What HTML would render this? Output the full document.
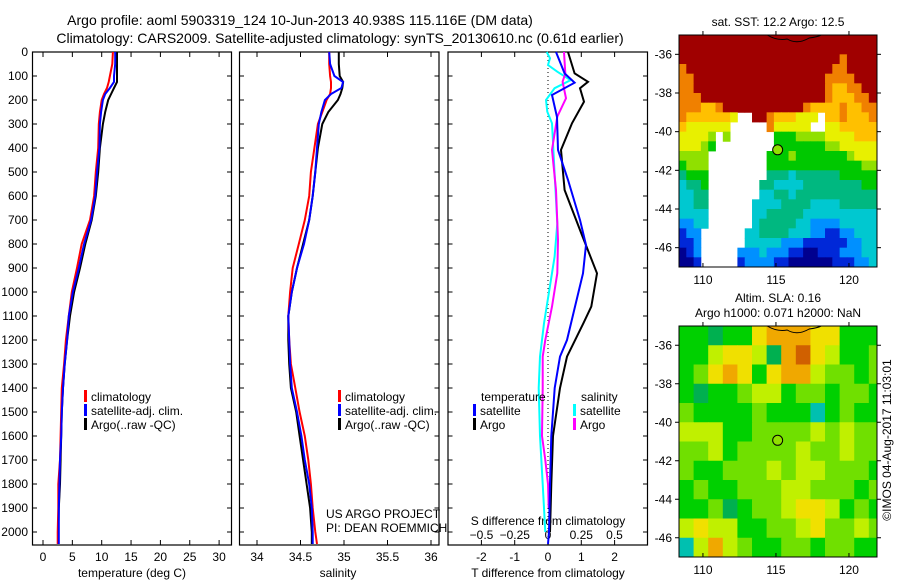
<!DOCTYPE html>
<html><head><meta charset="utf-8"><style>
html,body{margin:0;padding:0;background:#fff;}
svg{display:block;font-family:"Liberation Sans",sans-serif;}
text{font-size:12px;fill:#000;}
</style></head><body>
<svg id="chart" width="900" height="580" viewBox="0 0 900 580" xmlns="http://www.w3.org/2000/svg">
<text x="300" y="25" text-anchor="middle" style="font-size:14px">Argo profile: aoml 5903319_124 10-Jun-2013 40.938S 115.116E (DM data)</text>
<text x="340" y="43" text-anchor="middle" style="font-size:14px">Climatology: CARS2009. Satellite-adjusted climatology: synTS_20130610.nc (0.61d earlier)</text>
<g id="g1"></g>
<g id="g2"></g>
<g id="g3"></g>
<g id="m1"></g>
<g id="m2"></g>
<text x="0" y="0" transform="translate(891,440) rotate(-90)" text-anchor="middle">©IMOS 04-Aug-2017 11:03:01</text>
</svg>
<script>
// ---- profile data ----
const depths=[0,50,100,125,150,175,200,250,300,400,500,600,700,800,900,1000,1100,1200,1300,1400,1500,1600,1700,1800,1900,2000,2050];
const tClim=[11.9,11.8,11.4,11.2,10.9,10.4,10.0,9.7,9.5,9.4,9.0,8.7,8.0,6.6,5.8,4.9,4.4,3.9,3.6,3.2,3.1,3.0,2.9,2.6,2.6,2.5,2.5];
const tSat=[12.3,12.3,12.1,12.1,11.4,10.6,10.2,9.9,9.7,9.6,9.2,8.9,8.2,7.0,6.1,5.1,4.4,4.1,3.7,3.4,3.2,3.1,2.9,2.8,2.7,2.7,2.7];
const tArgo=[12.6,12.6,12.6,12.6,12.1,11.6,11.1,10.6,10.2,9.7,9.4,9.0,8.3,7.2,6.3,5.3,4.6,4.1,3.7,3.4,3.2,3.1,3.0,2.9,2.7,2.6,2.6];
const sClim=[34.83,34.83,34.84,34.85,34.85,34.84,34.80,34.75,34.70,34.66,34.62,34.60,34.55,34.48,34.41,34.38,34.36,34.37,34.39,34.44,34.49,34.55,34.59,34.62,34.64,34.67,34.69];
const sSat=[34.83,34.84,34.89,34.99,34.97,34.85,34.78,34.74,34.71,34.69,34.67,34.64,34.60,34.54,34.46,34.40,34.36,34.37,34.38,34.40,34.46,34.51,34.55,34.60,34.63,34.64,34.64];
const sArgo=[34.94,34.94,34.95,34.99,34.98,34.96,34.93,34.82,34.75,34.70,34.67,34.64,34.60,34.53,34.46,34.40,34.36,34.36,34.37,34.39,34.45,34.49,34.53,34.57,34.61,34.63,34.63];
const dDepA=[0,89,124,151,207,297,408,575,756,922,1061,1131,1269,1400,1600,1800,2000];
const dArgoT=[0.6,0.8,1.2,0.96,1.08,0.72,0.39,0.5,1.0,1.47,1.3,1.06,0.57,0.36,0.15,0.1,0.06];
const dDepB=[0,89,128,179,271,408,533,700,804,922,1061,1200,1269,1400,1600,1800,2000,2050];
const dSatT=[0.24,0.5,0.8,0.12,0.27,0.3,0.6,0.96,1.14,1.05,0.81,0.57,0.36,0.2,0.1,0.06,0.03,0.0];
const dDepC=[0,89,124,193,269,408,575,783,922,1061,1200,1269,1400,1600,1700,1800,1900];
const dArgoS=[0.12,0.13,0.11,0.135,0.07,0.03,0.06,0.075,0.07,0.03,-0.02,-0.04,-0.04,-0.045,-0.02,0.0,0.005];
const dDepD=[0,26,54,82,117,151,200,249,297,506,714,853,992,1131,1269,1400,1600,1800,1900,2000];
const dSatS=[-0.01,0.015,0.0,0.07,0.17,0.05,-0.015,-0.005,0.03,0.05,0.07,0.05,0.01,-0.03,-0.06,-0.07,-0.06,-0.04,-0.03,-0.02];
const depthTicks=[0,100,200,300,400,500,600,700,800,900,1000,1100,1200,1300,1400,1500,1600,1700,1800,1900,2000];
const tTicks=[0,5,10,15,20,25,30];
const sTicks=[34,34.5,35,35.5,36];
const dTTicks=[-2,-1,0,1,2];
const dSTicks=[-0.5,-0.25,0,0.25,0.5];
// ---- map data (levels; '.' = missing) ----
const sstRows=[
"AAAAAAAAAAAAAAAAAAAAAAAAAAA","AAAAAAAAAAAAAAAAAAAAAAAAAAA","AAAAAAAAAAAAAAAAAAAAAA9AAAA","9AAAAAAAAAAAAAAAAAAAA99AAAA",
"99AAAAAAAAAAAAAAAAAA9999AAA","99AAAAAAAAAAAAAAAAAA98899AA","999AAAAAAAAAAAAAAAAA988899A","999889AAAAAAAAAAA9888898899",
"98888887..AA9888777.8898889","8777777.....977777..7788888","77776.6......5556666777788 8".replace(' ',''),"77765........55555556677777",
"6666........555655555556777","5666........555555555555566","4555........444344444455555","3445.......4433334444444455",
"3344.......3344344444444444","3344......33334444333344444","3333......33444443333333333","2233......34444433222233333",
"122......33444433322 1122333".replace(' ',''),"112......33333222111 1112233".replace(' ',''),"012.....222322211001 1122233".replace(' ',''),"001.....122221100000 0111223".replace(' ','')];
const slaRows=["55455899988555","55788749A87556","56898589976656","54556775665665","65555655535655","77755666676766",
"66756666766766","65566676776665","56556667766656","55645667887565","78775566786676","37976556656655"];
const sstColors={"0":"#00008f","1":"#0028d8","2":"#0090ff","3":"#00c8d0","4":"#00b880","5":"#00c800","6":"#90e000","7":"#e8f000","8":"#ffc000","9":"#f08000","A":"#a00000"};
const slaColors={"3":"#00c0b0","4":"#00b050","5":"#00d000","6":"#70e000","7":"#c0f000","8":"#f0e000","9":"#f0a800","A":"#d06000"};
const lonTicks=[110,115,120];
const latTicks=[-36,-38,-40,-42,-44,-46];
const argoLon=115.116, argoLat=-40.938;

const NS="http://www.w3.org/2000/svg";
function mk(p,tag,at){const e=document.createElementNS(NS,tag);for(const k in at)e.setAttribute(k,at[k]);p.appendChild(e);return e;}
const yD=d=>52+d*0.24;
function profile(g,xs,vals,deps,col,w,name){
  let pts=vals.map((v,i)=>xs(v).toFixed(1)+","+yD(deps[i]).toFixed(1)).join(" ");
  const e=mk(g,"polyline",{points:pts,fill:"none",stroke:col,"stroke-width":w});
  
  
}
function frame(g,x0,x1,name){
  const r=mk(g,"rect",{x:x0,y:52,width:x1-x0,height:493,fill:"none",stroke:"#000","stroke-width":1.2});
  
  
}
function legend(g,x,y,col,label){
  const r=mk(g,"rect",{x:x,y:y-8,width:3,height:12,fill:col});
  
  
  const t=mk(g,"text",{x:x+7,y:y+3});t.textContent=label;
  
  
}
function txt(g,x,y,s,anchor,name){const t=mk(g,"text",{x:x,y:y,"text-anchor":anchor||"start"});t.textContent=s;
  
  return t;}

// panel 1
const g1=document.getElementById('g1');
const xT=v=>43+v*5.87;
frame(g1,32.5,231.5,'temperature-axes');
depthTicks.forEach(d=>{mk(g1,"line",{x1:32.5,x2:37,y1:yD(d),y2:yD(d),stroke:"#000"});mk(g1,"line",{x1:227,x2:231.5,y1:yD(d),y2:yD(d),stroke:"#000"});
  txt(g1,28,yD(d)+4,String(d),"end",'depth-tick-label');});
tTicks.forEach(v=>{mk(g1,"line",{x1:xT(v),x2:xT(v),y1:545,y2:540,stroke:"#000"});mk(g1,"line",{x1:xT(v),x2:xT(v),y1:52,y2:57,stroke:"#000"});
  txt(g1,xT(v),561,String(v),"middle",'temperature-tick-label');});
txt(g1,132,577,"temperature (deg C)","middle",'x-axis-title-temperature');
profile(g1,xT,tArgo,depths,"#000",2,'argo-temperature-line');
profile(g1,xT,tClim,depths,"#f00",2,'climatology-temperature-line');
profile(g1,xT,tSat,depths,"#00f",2,'satellite-temperature-line');
legend(g1,84,398,"#f00","climatology");legend(g1,84,412,"#00f","satellite-adj. clim.");legend(g1,84,426,"#000","Argo(..raw -QC)");

// panel 2
const g2=document.getElementById('g2');
const xS=v=>257+(v-34)*87;
frame(g2,239.5,439,'salinity-axes');
depthTicks.forEach(d=>{mk(g2,"line",{x1:239.5,x2:244,y1:yD(d),y2:yD(d),stroke:"#000"});mk(g2,"line",{x1:434.5,x2:439,y1:yD(d),y2:yD(d),stroke:"#000"});});
sTicks.forEach(v=>{mk(g2,"line",{x1:xS(v),x2:xS(v),y1:545,y2:540,stroke:"#000"});mk(g2,"line",{x1:xS(v),x2:xS(v),y1:52,y2:57,stroke:"#000"});
  txt(g2,xS(v),561,String(v),"middle",'salinity-tick-label');});
txt(g2,338,577,"salinity","middle",'x-axis-title-salinity');
profile(g2,xS,sArgo,depths,"#000",2,'argo-salinity-line');
profile(g2,xS,sClim,depths,"#f00",2,'climatology-salinity-line');
profile(g2,xS,sSat,depths,"#00f",2,'satellite-salinity-line');
legend(g2,338,398,"#f00","climatology");legend(g2,338,412,"#00f","satellite-adj. clim.");legend(g2,338,426,"#000","Argo(..raw -QC)");
txt(g2,326,518,"US ARGO PROJECT","start",'project-credit');
txt(g2,326,532,"PI: DEAN ROEMMICH","start",'pi-credit');

// panel 3
const g3=document.getElementById('g3');
const xdT=v=>548+v*33.3, xdS=v=>548+v*133;
frame(g3,448,647.5,'difference-axes');
depthTicks.forEach(d=>{mk(g3,"line",{x1:448,x2:452.5,y1:yD(d),y2:yD(d),stroke:"#000"});mk(g3,"line",{x1:643,x2:647.5,y1:yD(d),y2:yD(d),stroke:"#000"});});
mk(g3,"line",{x1:548,x2:548,y1:52,y2:545,stroke:"#000","stroke-dasharray":"1,3"});
dTTicks.forEach(v=>{mk(g3,"line",{x1:xdT(v),x2:xdT(v),y1:545,y2:540,stroke:"#000"});mk(g3,"line",{x1:xdT(v),x2:xdT(v),y1:52,y2:57,stroke:"#000"});
  txt(g3,xdT(v),561,String(v),"middle",'t-diff-tick-label');});
dSTicks.forEach(v=>{txt(g3,xdS(v),539,String(v).replace('-','\u2212'),"middle",'s-diff-tick-label');});
txt(g3,548,525,"S difference from climatology","middle",'s-diff-axis-title');
txt(g3,548,577,"T difference from climatology","middle",'t-diff-axis-title');
profile(g3,xdS,dSatS,dDepD,"#0ff",2,'satellite-salinity-diff-line');
profile(g3,xdS,dArgoS,dDepC,"#f0f",2,'argo-salinity-diff-line');
profile(g3,xdT,dArgoT,dDepA,"#000",2,'argo-temperature-diff-line');
profile(g3,xdT,dSatT,dDepB,"#00f",2,'satellite-temperature-diff-line');
txt(g3,481,401,"temperature","start",'legend-heading-temperature');
txt(g3,581,401,"salinity","start",'legend-heading-salinity');
legend(g3,473,412,"#00f","satellite");legend(g3,473,426,"#000","Argo");
legend(g3,573,412,"#0ff","satellite");legend(g3,573,426,"#f0f","Argo");

// maps
function drawMap(g,top,rows,colors,res,title1,title2){
  const x0=679,x1=877,lon0=108.36,lon1=121.92,lat0=-35.0,lat1=-47.0;
  const h=top===35?232:231;
  const xl=l=>x0+(l-lon0)/(lon1-lon0)*(x1-x0);
  const yl=l=>top+(lat0-l)/(lat0-lat1)*h;
  rows.forEach((row,r)=>{[...row].forEach((c,ci)=>{
    if(c==='.'||!colors[c])return;
    const la=lon0+ci*res, lb=Math.min(lon1,la+res);
    const ta=lat0-r*res, tb=Math.max(lat1,ta-res);
    const e=mk(g,"rect",{x:xl(la).toFixed(2),y:yl(ta).toFixed(2),width:(xl(lb)-xl(la)+0.4).toFixed(2),height:(yl(tb)-yl(ta)+0.4).toFixed(2),fill:colors[c]});
    
    
  });});
  mk(g,"path",{d:`M${xl(114.4)} ${top} q10 6 20 4 q10 6 22 -1 q8 -1 12 -3`,fill:"none",stroke:"#000","stroke-width":1});
  const fr=mk(g,"rect",{x:x0,y:top,width:x1-x0,height:h,fill:"none",stroke:"#000","stroke-width":1});
  
  
  lonTicks.forEach(l=>{mk(g,"line",{x1:xl(l),x2:xl(l),y1:top+h,y2:top+h-4,stroke:"#000"});mk(g,"line",{x1:xl(l),x2:xl(l),y1:top,y2:top-4,stroke:"#000"});
    txt(g,xl(l),top+h+17,String(l),"middle",'lon-tick-label');});
  latTicks.forEach(l=>{mk(g,"line",{x1:x0,x2:x0-4,y1:yl(l),y2:yl(l),stroke:"#000"});mk(g,"line",{x1:x1,x2:x1+4,y1:yl(l),y2:yl(l),stroke:"#000"});
    txt(g,x0-7,yl(l)+4,String(l).replace('-','-'),"end",'lat-tick-label');});
  const c=mk(g,"circle",{cx:xl(argoLon),cy:yl(argoLat),r:5,fill:"#90e000",stroke:"#000","stroke-width":1});
  
  
  txt(g,778,top-9-(title2?15:0),title1,"middle",'map-title');
  if(title2)txt(g,778,top-9,title2,"middle",'map-subtitle');
}
drawMap(document.getElementById('m1'),35,sstRows,sstColors,0.5,"sat. SST: 12.2 Argo: 12.5");
drawMap(document.getElementById('m2'),326,slaRows,slaColors,1.0,"Altim. SLA: 0.16","Argo h1000: 0.071 h2000: NaN");
</script>
</body></html>
